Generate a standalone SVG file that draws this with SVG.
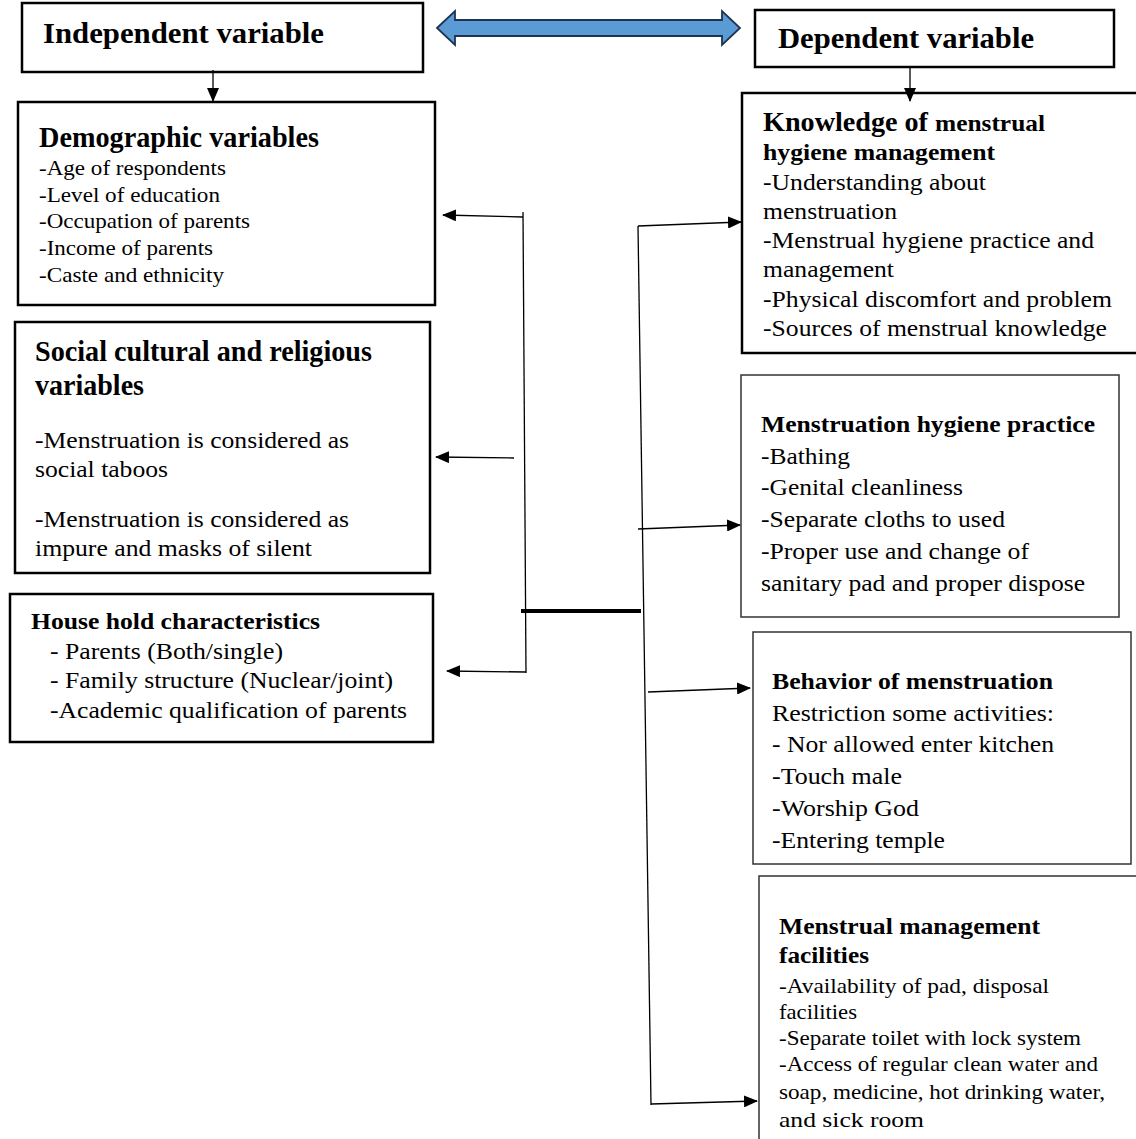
<svg xmlns="http://www.w3.org/2000/svg" width="1136" height="1139" viewBox="0 0 1136 1139">
<defs>
<marker id="ah" markerWidth="14" markerHeight="12" refX="13" refY="6" orient="auto" markerUnits="userSpaceOnUse">
<path d="M0,0 L14,6 L0,12 Z" fill="#000"/>
</marker>
<style>
.box{fill:#fff;stroke:#000;stroke-width:2.5}
.box2{fill:#fff;stroke:#333;stroke-width:1.5}
text{font-family:"Liberation Serif","Times New Roman",serif;fill:#000}
.t{font-weight:bold}
.ln{stroke:#000;stroke-width:1.3;fill:none}
</style>
</defs>
<rect width="1136" height="1139" fill="#fff"/>

<g id="independent">
<rect class="box" x="22" y="3" width="401" height="69"/>
<text class="t" x="43" y="43" font-size="30" textLength="281" lengthAdjust="spacingAndGlyphs">Independent variable</text>
</g>

<g id="dependent">
<rect class="box" x="755" y="10" width="359" height="57"/>
<text class="t" x="778" y="48" font-size="30" textLength="256" lengthAdjust="spacingAndGlyphs">Dependent variable</text>
</g>

<g id="double-arrow">
<polygon points="437,28 455,11 455,20 722,20 722,11 740,28 722,45 722,36 455,36 455,45" fill="#5B9BD5" stroke="#1F3251" stroke-width="1.8"/>
</g>

<g id="demographic">
<rect class="box" x="18" y="102" width="417" height="203"/>
<text class="t" x="39" y="147" font-size="29" textLength="280" lengthAdjust="spacingAndGlyphs">Demographic variables</text>
<g font-size="22">
<text x="39" y="175" textLength="187" lengthAdjust="spacingAndGlyphs">-Age of respondents</text>
<text x="39" y="202" textLength="181" lengthAdjust="spacingAndGlyphs">-Level of education</text>
<text x="39" y="228" textLength="211" lengthAdjust="spacingAndGlyphs">-Occupation of parents</text>
<text x="39" y="255" textLength="174" lengthAdjust="spacingAndGlyphs">-Income of parents</text>
<text x="39" y="282" textLength="185" lengthAdjust="spacingAndGlyphs">-Caste and ethnicity</text>
</g>
</g>

<g id="social">
<rect class="box" x="15" y="322" width="415" height="251"/>
<text class="t" x="35" y="361" font-size="30" textLength="337" lengthAdjust="spacingAndGlyphs">Social cultural and religious</text>
<text class="t" x="35" y="395" font-size="30" textLength="109" lengthAdjust="spacingAndGlyphs">variables</text>
<g font-size="24">
<text x="35" y="448" textLength="314" lengthAdjust="spacingAndGlyphs">-Menstruation is considered as</text>
<text x="35" y="477" textLength="133" lengthAdjust="spacingAndGlyphs">social taboos</text>
<text x="35" y="527" textLength="314" lengthAdjust="spacingAndGlyphs">-Menstruation is considered as</text>
<text x="35" y="556" textLength="277" lengthAdjust="spacingAndGlyphs">impure and masks of silent</text>
</g>
</g>

<g id="household">
<rect class="box" x="10" y="594" width="423" height="148"/>
<text class="t" x="31" y="629" font-size="23" textLength="289" lengthAdjust="spacingAndGlyphs">House hold characteristics</text>
<g font-size="24">
<text x="50" y="659" textLength="233" lengthAdjust="spacingAndGlyphs">- Parents (Both/single)</text>
<text x="50" y="688" textLength="343" lengthAdjust="spacingAndGlyphs">- Family structure (Nuclear/joint)</text>
<text x="50" y="718" textLength="357" lengthAdjust="spacingAndGlyphs">-Academic qualification of parents</text>
</g>
</g>

<g id="knowledge">
<rect class="box" x="742" y="93" width="400" height="260"/>
<text class="t" x="763" y="131" font-size="28"><tspan textLength="165" lengthAdjust="spacingAndGlyphs">Knowledge of</tspan><tspan x="935" font-size="24" textLength="110" lengthAdjust="spacingAndGlyphs">menstrual</tspan></text>
<text class="t" x="763" y="160" font-size="24" textLength="232" lengthAdjust="spacingAndGlyphs">hygiene management</text>
<g font-size="24">
<text x="763" y="190" textLength="223" lengthAdjust="spacingAndGlyphs">-Understanding about</text>
<text x="763" y="219" textLength="134" lengthAdjust="spacingAndGlyphs">menstruation</text>
<text x="763" y="248" textLength="331" lengthAdjust="spacingAndGlyphs">-Menstrual hygiene practice and</text>
<text x="763" y="277" textLength="131" lengthAdjust="spacingAndGlyphs">management</text>
<text x="763" y="307" textLength="349" lengthAdjust="spacingAndGlyphs">-Physical discomfort and problem</text>
<text x="763" y="336" textLength="344" lengthAdjust="spacingAndGlyphs">-Sources of menstrual knowledge</text>
</g>
</g>

<g id="hygiene-practice">
<rect class="box2" x="741" y="375" width="378" height="242"/>
<text class="t" x="761" y="432" font-size="23" textLength="334" lengthAdjust="spacingAndGlyphs">Menstruation hygiene practice</text>
<g font-size="24">
<text x="761" y="464" textLength="89" lengthAdjust="spacingAndGlyphs">-Bathing</text>
<text x="761" y="495" textLength="202" lengthAdjust="spacingAndGlyphs">-Genital cleanliness</text>
<text x="761" y="527" textLength="244" lengthAdjust="spacingAndGlyphs">-Separate cloths to used</text>
<text x="761" y="559" textLength="268" lengthAdjust="spacingAndGlyphs">-Proper use and change of</text>
<text x="761" y="591" textLength="324" lengthAdjust="spacingAndGlyphs">sanitary pad and proper dispose</text>
</g>
</g>

<g id="behavior">
<rect class="box2" x="753" y="632" width="378" height="232"/>
<text class="t" x="772" y="689" font-size="23" textLength="281" lengthAdjust="spacingAndGlyphs">Behavior of menstruation</text>
<g font-size="24">
<text x="772" y="721" textLength="282" lengthAdjust="spacingAndGlyphs">Restriction some activities:</text>
<text x="772" y="752" textLength="282" lengthAdjust="spacingAndGlyphs">- Nor allowed enter kitchen</text>
<text x="772" y="784" textLength="130" lengthAdjust="spacingAndGlyphs">-Touch male</text>
<text x="772" y="816" textLength="147" lengthAdjust="spacingAndGlyphs">-Worship God</text>
<text x="772" y="848" textLength="173" lengthAdjust="spacingAndGlyphs">-Entering temple</text>
</g>
</g>

<g id="facilities">
<rect class="box2" x="759" y="876" width="390" height="280"/>
<text class="t" x="779" y="934" font-size="24" textLength="261" lengthAdjust="spacingAndGlyphs">Menstrual management</text>
<text class="t" x="779" y="963" font-size="24" textLength="90" lengthAdjust="spacingAndGlyphs">facilities</text>
<g font-size="21">
<text x="779" y="993" textLength="270" lengthAdjust="spacingAndGlyphs">-Availability of pad, disposal</text>
<text x="779" y="1019" textLength="78" lengthAdjust="spacingAndGlyphs">facilities</text>
<text x="779" y="1045" textLength="302" lengthAdjust="spacingAndGlyphs">-Separate toilet with lock system</text>
<text x="779" y="1071" textLength="319" lengthAdjust="spacingAndGlyphs">-Access of regular clean water and</text>
<text x="779" y="1099" textLength="326" lengthAdjust="spacingAndGlyphs">soap, medicine, hot drinking water,</text>
<text x="779" y="1127" textLength="145" lengthAdjust="spacingAndGlyphs">and sick room</text>
</g>
</g>

<g id="connectors">
<line class="ln" x1="213" y1="70" x2="213" y2="101" marker-end="url(#ah)"/>
<line class="ln" x1="910" y1="68" x2="910" y2="101" marker-end="url(#ah)"/>
<line class="ln" x1="523" y1="212" x2="526" y2="673"/>
<line class="ln" x1="523" y1="217" x2="443" y2="215" marker-end="url(#ah)"/>
<line class="ln" x1="514" y1="458" x2="436" y2="457" marker-end="url(#ah)"/>
<line class="ln" x1="526" y1="672" x2="447" y2="671" marker-end="url(#ah)"/>
<line x1="521" y1="611" x2="641" y2="611" stroke="#000" stroke-width="4"/>
<line class="ln" x1="638" y1="226" x2="651" y2="1105"/>
<line class="ln" x1="638" y1="226" x2="741" y2="222" marker-end="url(#ah)"/>
<line class="ln" x1="638" y1="529" x2="740" y2="525" marker-end="url(#ah)"/>
<line class="ln" x1="648" y1="692" x2="750" y2="688" marker-end="url(#ah)"/>
<line class="ln" x1="651" y1="1104" x2="757" y2="1101" marker-end="url(#ah)"/>
</g>
</svg>
